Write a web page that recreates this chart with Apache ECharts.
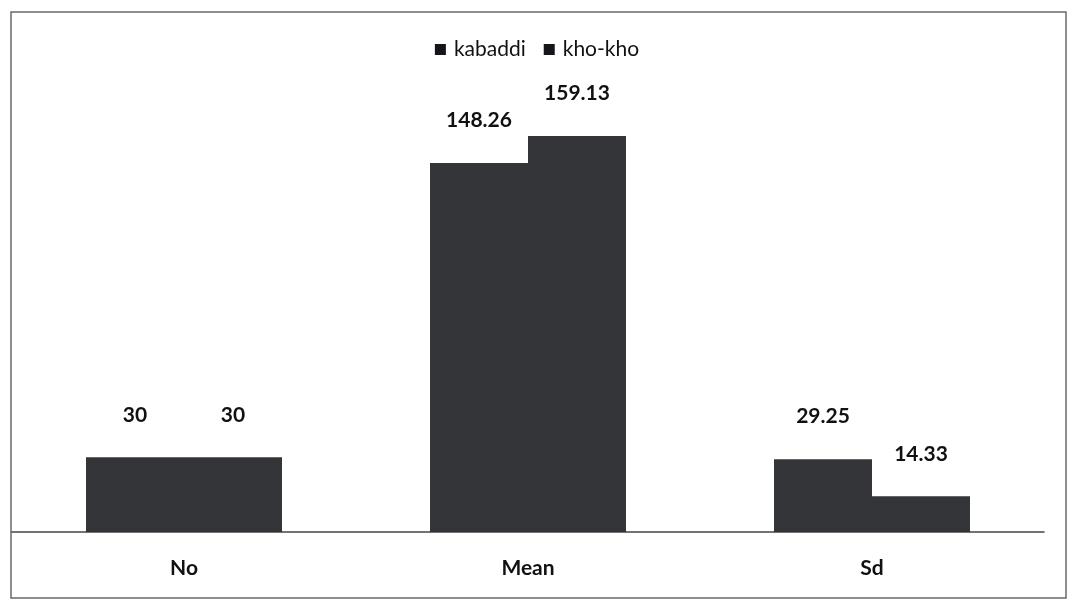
<!DOCTYPE html>
<html>
<head>
<meta charset="utf-8">
<script src="https://cdn.jsdelivr.net/npm/echarts@6/dist/echarts.min.js"></script>
<style>
  html, body { margin: 0; padding: 0; background: #fff; }
  #chart { width: 1074px; height: 602px; }
</style>
</head>
<body>
<div id="chart"></div>
<script>
// Categories and values for the two groups
const categories = ['No', 'Mean', 'Sd'];
const kabaddi = [30, 148.26, 29.25];
const khoKho = [30, 159.13, 14.33];
const seriesNames = ['kabaddi', 'kho-kho'];

const FONT = 'Lato, "Open Sans", sans-serif';
const BAR_COLOR = '#333538';

const chart = echarts.init(document.getElementById('chart'));

function barSeries(name, values) {
  return {
    name: name,
    type: 'bar',
    data: values,
    barWidth: 98,
    barGap: '0%',
    itemStyle: { color: BAR_COLOR },
    label: {
      show: true,
      position: 'top',
      distance: 32,
      color: '#111',
      fontFamily: FONT,
      fontWeight: 'bold',
      fontSize: 21
    }
  };
}

chart.setOption({
  backgroundColor: '#fff',
  animation: false,
  graphic: [{
    type: 'rect',
    shape: { x: 11, y: 12, width: 1055, height: 586 },
    style: { fill: 'none', stroke: '#6a6a6a', lineWidth: 1.5 },
    silent: true,
    z: -1
  }],
  legend: {
    top: 34,
    left: 'center',
    icon: 'rect',
    itemWidth: 11,
    itemHeight: 11,
    itemGap: 18,
    textStyle: { fontFamily: FONT, fontSize: 21, color: '#111', padding: [0, 0, 0, 3] },
    data: seriesNames.map(n => ({ name: n, itemStyle: { color: '#17141a' } }))
  },
  grid: { left: 12, right: 30, top: 84, bottom: 70 },
  xAxis: {
    type: 'category',
    data: categories,
    axisLine: { lineStyle: { color: '#444', width: 1.5 } },
    axisTick: { show: false },
    axisLabel: {
      margin: 26,
      color: '#111',
      fontFamily: FONT,
      fontWeight: 'bold',
      fontSize: 21
    }
  },
  yAxis: {
    type: 'value',
    min: 0,
    max: 180,
    show: false,
    splitLine: { show: false }
  },
  series: [barSeries(seriesNames[0], kabaddi), barSeries(seriesNames[1], khoKho)]
});
</script>
</body>
</html>
